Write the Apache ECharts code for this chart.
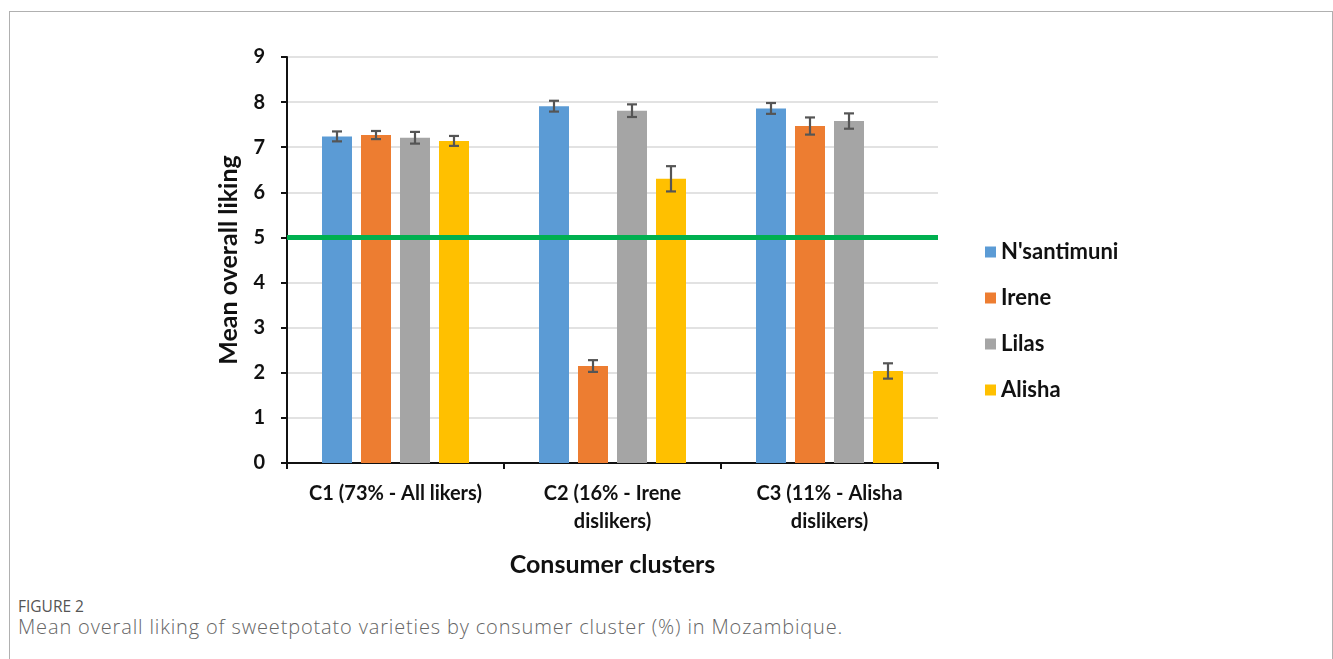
<!DOCTYPE html>
<html>
<head>
<meta charset="utf-8">
<script src="https://cdn.jsdelivr.net/npm/echarts@6/dist/echarts.min.js"></script>
<style>
  html, body { margin: 0; padding: 0; background: #fff; }
  #frame {
    position: absolute; left: 9px; top: 11px; width: 1322px; height: 660px;
    border-left: 1px solid #b0b0b0; border-top: 1px solid #b0b0b0; border-right: 1px solid #b0b0b0;
  }
  #chart { position: absolute; left: 0; top: 0; width: 1333px; height: 590px; }
  .figlabel { position: absolute; left: 18px; top: 595px; font-family: "Open Sans", sans-serif; font-size: 15.5px; color: #555; }
  .caption { position: absolute; left: 18px; top: 613px; font-family: "Open Sans", sans-serif; font-weight: 300; font-size: 20px; letter-spacing: 0.85px; color: #666; }
</style>
</head>
<body>
<div id="frame"></div>
<div id="chart"></div>
<div class="figlabel">FIGURE 2</div>
<div class="caption">Mean overall liking of sweetpotato varieties by consumer cluster (%) in Mozambique.</div>
<script>
// clusters and varieties
const clusters = ['C1 (73% - All likers)', 'C2 (16% - Irene\ndislikers)', 'C3 (11% - Alisha\ndislikers)'];
const varieties = ["N'santimuni", 'Irene', 'Lilas', 'Alisha'];
const colors = ['#5b9bd5', '#ed7d31', '#a5a5a5', '#ffc000'];

// mean liking per variety (C1, C2, C3)
const nsantimuni = [7.24, 7.91, 7.86];
const irene = [7.27, 2.15, 7.47];
const lilas = [7.21, 7.81, 7.58];
const alisha = [7.14, 6.30, 2.04];
// error (+/-)
const nsantimuniErr = [0.11, 0.12, 0.12];
const ireneErr = [0.09, 0.13, 0.19];
const lilasErr = [0.13, 0.14, 0.17];
const alishaErr = [0.11, 0.28, 0.17];

const yTicks = [0, 1, 2, 3, 4, 5, 6, 7, 8, 9];
const neutral = 5;

const means = [nsantimuni, irene, lilas, alisha];
const errs = [nsantimuniErr, ireneErr, lilasErr, alishaErr];

const barW = 30, barGapPx = 9;

let chart = echarts.init(document.getElementById('chart'));

let series = [];
varieties.forEach((name, i) => {
  series.push({
    name: name,
    type: 'bar',
    barWidth: barW,
    barGap: '30%',
    itemStyle: { color: colors[i] },
    data: means[i],
    markLine: i === 0 ? {
      silent: true,
      symbol: 'none',
      label: { show: false },
      lineStyle: { color: '#00b050', width: 5, type: 'solid' },
      data: [{ yAxis: neutral }]
    } : undefined,
    z: 2
  });
});

// error bars
varieties.forEach((name, i) => {
  let d = clusters.map((c, k) => [k, means[i][k] - errs[i][k], means[i][k] + errs[i][k]]);
  series.push({
    type: 'custom',
    name: name + ' err',
    z: 5,
    renderItem: function (params, api) {
      let k = api.value(0);
      let lo = api.coord([k, api.value(1)]);
      let hi = api.coord([k, api.value(2)]);
      let off = (i - 1.5) * (barW + barGapPx);
      let x = lo[0] + off;
      let cap = 5;
      let style = { stroke: '#555', lineWidth: 2.2 };
      return {
        type: 'group',
        children: [
          { type: 'line', shape: { x1: x, y1: lo[1], x2: x, y2: hi[1] }, style: style },
          { type: 'line', shape: { x1: x - cap, y1: lo[1], x2: x + cap, y2: lo[1] }, style: style },
          { type: 'line', shape: { x1: x - cap, y1: hi[1], x2: x + cap, y2: hi[1] }, style: style }
        ]
      };
    },
    data: d
  });
});

chart.setOption({
  animation: false,
  textStyle: { fontFamily: 'Lato' },
  grid: { left: 287, top: 57, width: 651, height: 406 },
  legend: {
    data: varieties,
    orient: 'vertical',
    left: 980,
    top: 236,
    icon: 'rect',
    itemWidth: 11,
    itemHeight: 11,
    itemGap: 24,
    textStyle: { fontFamily: 'Lato', fontWeight: 'bold', fontSize: 22, color: '#111' }
  },
  xAxis: {
    type: 'category',
    data: clusters,
    name: 'Consumer clusters',
    nameLocation: 'middle',
    nameGap: 89,
    nameTextStyle: { fontFamily: 'Lato', fontWeight: 'bold', fontSize: 25, color: '#111' },
    axisLine: { lineStyle: { color: '#111', width: 2 } },
    axisTick: { show: true, length: 6, lineStyle: { color: '#111', width: 2 } },
    axisLabel: {
      interval: 0, hideOverlap: false,
      fontFamily: 'Lato', fontWeight: 'bold', fontSize: 20, color: '#111', lineHeight: 28, margin: 17
    }
  },
  yAxis: {
    type: 'value',
    min: 0,
    max: 9,
    interval: 1,
    name: 'Mean overall liking',
    nameLocation: 'middle',
    nameGap: 46,
    nameTextStyle: { fontFamily: 'Lato', fontWeight: 'bold', fontSize: 25, color: '#111' },
    axisLine: { show: true, lineStyle: { color: '#111', width: 2 } },
    axisTick: { show: true, length: 6, lineStyle: { color: '#111', width: 2 } },
    axisLabel: {
      fontFamily: 'Lato', fontWeight: 'bold', fontSize: 20, color: '#111', margin: 22,
      formatter: v => yTicks.includes(v) ? String(v) : ''
    },
    splitLine: { lineStyle: { color: '#d9d9d9', width: 1.5 } }
  },
  series: series
});
</script>
</body>
</html>
